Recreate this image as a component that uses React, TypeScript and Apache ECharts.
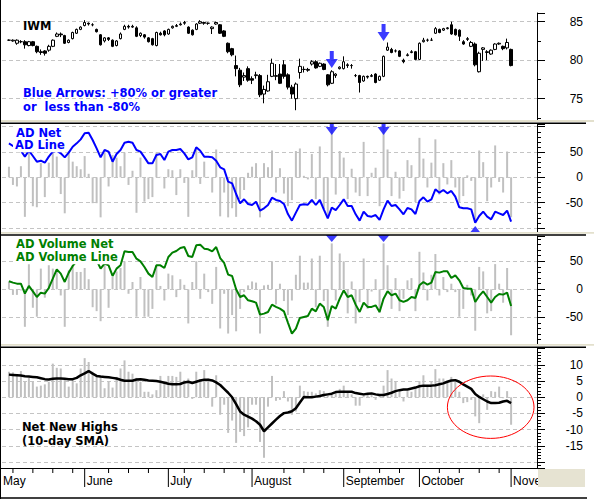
import React, { useEffect, useRef } from 'react';
import * as echarts from 'echarts';

// ---------- categories ----------
const HOLIDAYS = ['2007-05-28', '2007-07-04', '2007-09-03'];
const FIRST_DAY = '2007-05-01';
const CATEGORY_COUNT = 136;
const LEAD = 3; // trading days on the axis before the first data point (May 4)
const MONTH_NAMES = ['January', 'February', 'March', 'April', 'May', 'June', 'July', 'August', 'September', 'October', 'November', 'December'];

// ---------- IWM daily candles [open, high, low, close], 2007-05-04 .. 2007-11-01 ----------
const priceOHLC: number[][] = [
  [82.6, 82.7, 82.5, 82.6], [82.5, 82.7, 82.4, 82.6], [82.2, 82.7, 82.0, 82.6], [82.4, 82.6, 82.2, 82.4], [82.4, 82.6, 81.5, 82.0],
  [81.9, 82.5, 81.8, 82.4], [82.4, 82.5, 81.8, 81.9], [81.8, 81.9, 80.9, 81.1], [81.1, 81.4, 80.7, 81.0], [81.2, 81.3, 80.6, 80.9],
  [81.3, 82.0, 81.1, 81.8], [81.8, 82.7, 81.7, 82.6], [83.1, 83.6, 83.0, 83.4], [83.4, 83.6, 83.0, 83.3], [83.2, 83.3, 82.1, 82.2],
  [82.3, 82.7, 82.2, 82.6], [82.8, 83.7, 82.7, 83.6], [83.5, 84.1, 83.4, 84.0], [84.0, 84.4, 83.9, 84.3], [84.5, 85.2, 84.4, 84.9],
  [84.8, 84.9, 84.5, 84.7], [84.6, 84.8, 84.4, 84.6], [84.0, 84.1, 83.6, 83.7], [83.3, 83.4, 81.9, 82.0], [82.5, 83.0, 82.3, 82.9],
  [82.9, 83.0, 82.5, 82.7], [82.6, 82.7, 81.7, 81.8], [81.9, 82.6, 81.8, 82.5], [82.8, 83.6, 82.7, 83.4], [84.0, 84.6, 83.9, 84.4],
  [84.4, 84.6, 84.1, 84.3], [84.3, 84.6, 84.2, 84.4], [84.2, 84.4, 83.0, 83.1], [83.2, 83.6, 83.0, 83.5], [83.3, 83.4, 82.8, 83.0],
  [82.9, 83.0, 82.3, 82.4], [82.8, 82.9, 81.9, 82.0], [81.9, 83.7, 81.8, 83.6], [83.5, 83.7, 83.2, 83.3], [83.8, 83.9, 83.1, 83.3],
  [83.4, 84.1, 83.3, 84.0], [84.2, 84.5, 84.1, 84.4], [84.4, 84.7, 84.3, 84.5], [84.6, 84.9, 84.5, 84.7], [84.8, 85.1, 84.6, 84.9],
  [84.3, 84.4, 83.4, 83.5], [83.9, 84.0, 83.2, 83.3], [84.0, 84.8, 83.9, 84.7], [84.8, 85.2, 84.7, 85.0], [84.9, 85.0, 84.6, 84.8],
  [84.8, 84.9, 84.6, 84.8], [84.1, 84.4, 83.4, 84.3], [84.7, 85.0, 84.6, 84.9], [84.6, 84.7, 83.4, 83.5], [83.8, 83.9, 83.0, 83.1],
  [82.2, 82.3, 80.9, 81.1], [81.5, 81.6, 80.5, 80.7], [79.3, 80.6, 77.9, 78.9], [78.7, 79.0, 76.5, 76.8], [77.8, 78.4, 77.3, 78.0],
  [78.9, 79.2, 77.2, 77.4], [77.6, 77.9, 76.9, 77.4], [78.0, 78.5, 77.6, 78.1], [78.0, 78.2, 75.2, 75.5], [75.6, 76.7, 74.4, 76.2],
  [76.0, 78.1, 75.9, 77.2], [77.9, 80.2, 77.8, 79.6], [77.9, 79.5, 77.4, 78.0], [78.2, 79.5, 76.9, 77.0], [79.4, 80.0, 77.6, 77.9],
  [78.1, 78.3, 76.2, 76.5], [76.5, 76.8, 75.0, 75.6], [75.0, 77.1, 73.5, 76.9], [78.4, 80.2, 77.6, 79.2], [78.8, 79.2, 78.4, 78.8],
  [78.8, 79.0, 78.5, 78.7], [79.5, 80.0, 79.3, 79.8], [79.8, 80.0, 78.9, 79.0], [79.2, 79.7, 79.1, 79.6], [79.5, 79.6, 78.7, 78.8],
  [78.1, 78.2, 76.6, 76.8], [77.0, 78.7, 76.9, 78.5], [78.0, 78.3, 77.7, 78.2], [78.9, 79.2, 78.8, 79.1], [78.9, 80.5, 78.8, 79.8],
  [79.4, 79.6, 79.0, 79.3], [79.3, 79.5, 78.9, 79.3], [78.0, 78.2, 77.8, 78.0], [78.0, 78.1, 75.8, 77.1], [77.3, 78.0, 77.2, 77.9],
  [77.9, 78.0, 77.6, 77.8], [77.9, 78.2, 77.8, 78.0], [78.2, 78.3, 77.0, 77.1], [77.4, 78.0, 77.3, 77.9], [77.9, 80.6, 77.8, 80.5],
  [81.3, 82.3, 81.2, 81.7], [81.4, 81.6, 80.9, 81.0], [81.2, 81.4, 81.0, 81.2], [81.2, 81.3, 80.4, 80.5], [80.0, 80.2, 79.6, 79.8],
  [80.6, 80.9, 80.5, 80.7], [81.0, 81.3, 80.9, 81.1], [81.1, 81.2, 80.0, 80.1], [80.1, 82.3, 80.0, 82.2], [82.4, 82.9, 82.3, 82.6],
  [82.6, 82.8, 82.4, 82.6], [82.6, 82.9, 82.5, 82.6], [83.5, 84.3, 83.4, 84.1], [84.0, 84.1, 83.5, 83.6], [83.9, 84.2, 83.8, 84.1],
  [84.1, 84.3, 84.0, 84.2], [84.6, 85.0, 83.3, 83.4], [84.0, 84.1, 83.2, 83.3], [83.9, 84.0, 82.5, 83.1], [82.4, 82.6, 82.0, 82.1],
  [82.7, 83.0, 82.5, 82.8], [81.8, 82.5, 81.7, 82.3], [82.1, 82.3, 79.2, 79.4], [78.5, 81.1, 78.4, 80.9], [81.4, 81.7, 79.9, 81.6],
  [81.0, 81.3, 80.0, 81.1], [80.8, 81.4, 80.7, 81.3], [81.4, 82.2, 81.3, 82.1], [82.1, 82.3, 82.0, 82.2], [81.8, 81.9, 81.3, 81.5],
  [81.6, 82.8, 81.4, 82.3], [81.4, 81.5, 79.2, 79.3],
];

// ---------- AD Net (bars) and AD Line ----------
const adNet = [
  21, -15, -18, 22, -78, 51, -57, -59, 28, -39,
  29, 51, 41, -33, -71, 51, 31, 22, 16, 42,
  7, -51, -51, -79, 49, -18, 44, 39, 22, 49,
  -15, 13, -70, 39, -48, -43, -39, 49, 1, -22,
  16, 14, -35, 16, -11, -78, 14, 59, -13, 31,
  1, -30, 55, -77, -30, -79, -61, -78, -43, -25,
  9, 21, 28, -79, 28, 20, 53, -30, 18, -32,
  -57, -45, 52, 57, 3, -4, 46, -43, 61, -63,
  -76, 100, -34, 52, 39, -43, 17, -30, -37, 70,
  -37, 9, 19, -57, 100, 55, -37, 11, -42, -27,
  34, 24, -49, 78, 37, -20, 29, 75, -34, 28,
  -14, 34, -20, -49, -37, 4, -7, -88, 53, 30,
  -47, -20, 63, -9, -30, 51, -79,
];
const adLine = [
  67.1, 61.9, 57.2, 52.6, 40.8, 52.6, 42.1, 30.9, 32.9, 28.9,
  40.8, 50.7, 52.6, 47.4, 39.5, 48.7, 60.5, 67.1, 75, 86.9,
  88.2, 73.7, 57.2, 39.5, 54, 50.7, 30.9, 46.1, 54, 68.4,
  70.4, 68.4, 54, 50.7, 39.5, 27.6, 27.6, 44.1, 46.1, 34.2,
  50.7, 54, 54, 55.9, 47.4, 35.5, 39.5, 59.2, 52.6, 40.8,
  40.8, 39.5, 32.9, 19.7, 15.8, -8.6, -11.8, -32.9, -51.3, -43.4,
  -52.6, -54.6, -48, -65.8, -61.2, -54.6, -40.1, -44.7, -46.7, -52.6,
  -72.4, -85.5, -69.7, -54.6, -53.3, -54, -44.7, -54.6, -44.7, -63.2,
  -80.9, -59.9, -64.5, -54.6, -43.4, -56.6, -56.6, -73, -85.5, -67.8,
  -76.3, -77.6, -74.4, -84.2, -63.2, -46.1, -56.6, -54.6, -63.2, -73,
  -60.5, -63.2, -72.4, -46.7, -39.5, -48, -43.4, -23.7, -30.3, -25,
  -31.6, -26.9, -38.2, -59.2, -61.2, -61.2, -63.2, -89.5, -76.3, -67.8,
  -77.6, -82.9, -67.8, -71.1, -74.4, -65.8, -87.5,
];

// ---------- AD Volume Net (bars) and AD Volume Line ----------
const advNet = [
  14, -10, -10, -2, -67, 49, -33, -49, 37, -15,
  43, 37, 32, -11, -67, 34, 43, 31, 31, 38,
  18, -32, -39, -57, 43, -33, 22, 32, 38, 50,
  -8, 13, -49, 22, -49, -49, -35, 43, 6, -20,
  28, 25, -14, 18, 8, -61, 13, 50, -17, 28,
  -5, -26, 40, -70, -8, -79, -46, -75, -35, -5,
  7, 14, 12, -79, 7, 8, 50, -27, 10, -21,
  -46, -20, 26, 60, 12, 12, 55, -32, 60, -21,
  -67, 82, -20, 64, 50, -43, 14, -61, -23, 55,
  -35, -4, 18, -42, 82, 43, -35, 20, -39, -17,
  16, 20, -39, 67, 30, -20, 26, 63, -11, 22,
  -5, 10, -5, -49, -35, 8, -11, -74, 40, 32,
  -43, -39, 45, 10, -24, 38, -82,
];
const advLine = [
  14.3, 11.9, 10.1, 10.1, -7.7, 6, -3.6, -13.7, -6, -7.7,
  2.4, 19, 35.7, 28, 13.1, 29.8, 41.7, 50, 55.9, 59.5,
  60.7, 55.9, 51.8, 36.9, 45.8, 42.8, 23.8, 36.9, 42.8, 67.8,
  66.6, 66.6, 54.7, 50, 39.9, 28, 22, 42.8, 42.8, 38.1,
  57.7, 65.5, 68.4, 73.8, 75.6, 59.5, 57.7, 78.5, 79.7, 72.6,
  71.4, 67.8, 75.6, 55.9, 47, 26.2, 23.8, 0, -13.7, -10.7,
  -19.6, -21.4, -23.8, -45.2, -43.4, -40.5, -27.4, -31.5, -34.5, -39.3,
  -59.5, -79.1, -70.2, -51.2, -49.4, -47.6, -34.5, -39.3, -25.6, -31.5,
  -55.3, -29.8, -34.5, -16.7, -1.8, -13.7, -10.7, -27.4, -40.5, -23.8,
  -31.5, -31.5, -28.6, -40.5, -16.7, -3.6, -10.7, -7.7, -19.6, -22.6,
  -19.6, -13.7, -15.5, 7.1, 13.1, 8.3, 11.9, 30.9, 29.8, 32.1,
  32.1, 20.2, 25, 16.1, 2.4, 1.2, 1.2, -22.6, -11.9, -3.6,
  -13.7, -23.8, -13.7, -8.3, -9.5, -6, -29.8,
];

// ---------- Net New Highs (bars) and 10-day SMA ----------
const nnhNet = [
  7.9, 7.7, 6.6, 8.1, 4.8, 6, 4.8, 3.3, 3.6, 4,
  4.8, 10.4, 9.1, 8.9, 5.3, 3.3, 5.8, 4.3, 8.9, 12.1,
  10.9, 7.9, 6.8, 6.3, 2.8, 4.8, 3, 6.3, 8.9, 11.4,
  7.9, 7.3, 6, 4.8, 1.7, 1.7, 0.9, 2.2, 6.6, 5,
  6.6, 6.6, 6.3, 7.9, 5.3, 5.8, -0.5, 7.9, 5.6, 8.4,
  5.8, -2.9, 6.8, -5.4, -2.3, -11, -7.2, -14.1, -10.7, -12,
  -9.3, -2.3, -2.3, -13.8, -18.7, -2.9, 6.6, -1.1, -0.8, 1.9,
  -1.3, -5.4, -4.4, 3.6, 1.9, 1.7, 1.7, 1.2, 2.2, 1.9,
  0.5, 0.9, 1.7, 2.6, 3.6, 1.7, 0.9, -2.6, -2.6, 0.9,
  0.7, 1.2, -0.8, 0.7, 3.6, 8.4, 5.8, 5, 2.2, -1.3,
  1.9, 1.7, 3, 5, 6.8, 3.3, 4.8, 8.7, 5.8, 5.8,
  5, 6.3, 5, 1.7, -1.8, -1.5, -0.8, -5.9, -8, 0.9,
  -3.9, 1.9, 1.7, 3.3, -0.3, 1.9, -8.5,
];
const nnhSma = [
  7.0, 6.9, 6.8, 6.7, 6.5, 6.4, 6.3, 6.2, 5.9, 5.6,
  5.5, 5.7, 5.8, 5.8, 5.7, 5.6, 5.6, 6.0, 6.8, 7.4,
  8.1, 7.3, 6.6, 6.4, 6.3, 6.2, 6.0, 5.8, 5.4, 5.1,
  5.1, 5.1, 5.5, 5.6, 5.4, 5.2, 5.1, 5.0, 4.8, 4.5,
  4.2, 4.0, 4.0, 4.1, 4.6, 4.8, 4.4, 4.8, 5.2, 5.4,
  5.4, 5.2, 4.6, 3.8, 2.6, 1.4, 0, -2.1, -4.4, -5.4,
  -6.0, -6.6, -7.4, -8.5, -10.5, -9.3, -8.1, -6.9, -5.8, -4.9,
  -4.7, -4.3, -3.4, -1.6, 0.1, 0, 0, 0.2, 0.4, 0.7,
  0.9, 1.1, 1.6, 1.7, 1.7, 1.7, 1.7, 1.3, 1.1, 0.9,
  1.1, 1.2, 0.9, 0.7, 0.7, 1.0, 1.4, 1.9, 2.2, 2.4,
  2.4, 2.7, 3.0, 3.4, 3.6, 3.6, 3.6, 3.7, 4.0, 4.3,
  4.8, 5.2, 5.3, 4.8, 4.0, 3.3, 2.6, 1.0, 0.1, -0.6,
  -1.3, -1.8, -1.8, -1.7, -1.3, -1.1, -1.8,
];

// ---------- blue arrows (days with AD Net beyond +/-80%) ----------
const upArrowDates = ['2007-08-29', '2007-09-18'];
const priceArrowTips = [79.0, 82.5];
const adArrowTip = 83.4;
const advArrowTip = 84.5;
const downArrowDates = ['2007-10-19'];
const adDownArrowTip = -96;

// ---------- axis ticks / gridlines ----------
const priceLabels = [75, 80, 85];
const priceGrid = [75, 80, 85];
const adLabels = [50, 0, -50];
const adGrid = [100, 50, 0, -50, -100];
const advLabels = [50, 0, -50];
const advGrid = [50, 0, -50];
const nnhLabels = [10, 5, 0, -5, -10, -15];
const nnhGrid = [10, 5, 0, -5, -10, -15, -20];
const MONTH_TICK_LEN = 19;
const WEEK_TICK_LEN = 5;

function tradingDays(start: string, count: number): string[] {
  const out: string[] = [];
  const d = new Date(start + 'T00:00:00Z');
  while (out.length < count) {
    const dow = d.getUTCDay();
    const s = d.toISOString().slice(0, 10);
    if (dow !== 0 && dow !== 6 && !HOLIDAYS.includes(s)) out.push(s);
    d.setUTCDate(d.getUTCDate() + 1);
  }
  return out;
}

const dates = tradingDays(FIRST_DAY, CATEGORY_COUNT);
const monthStart = dates.map((d, i) => i === 0 || d.slice(5, 7) !== dates[i - 1].slice(5, 7));
const weekStart: boolean[] = [];
{
  let last = -99;
  dates.forEach((d, i) => {
    if (monthStart[i]) { last = i; weekStart.push(false); return; }
    const dow = new Date(d + 'T00:00:00Z').getUTCDay();
    const prev = new Date(dates[i - 1] + 'T00:00:00Z').getUTCDay();
    weekStart.push(dow < prev && i - last > 3);
  });
}
const tickLengths = dates.map((_, i) => (monthStart[i] ? MONTH_TICK_LEN : weekStart[i] ? WEEK_TICK_LEN : '-'));
const monthName = (d: string) => MONTH_NAMES[Number(d.slice(5, 7)) - 1];

const pad = (arr: any[]) => [...Array(LEAD).fill('-'), ...arr];

const LABEL_FONT = '"Liberation Sans", Arial, sans-serif';
const TITLE_FONT = 'bold 11.5px "DejaVu Sans", Verdana, sans-serif';
const GRID_COLOR = '#c4c4c4';
const BAR_COLOR = '#c0c0c0';

const fmt = (list: number[]) => (v: number) => (list.some((t) => Math.abs(t - v) < 1e-6) ? String(v) : '');

function yAxisFor(gridIndex: number, min: number, max: number, step: number, minorSplit: number, labels: number[]) {
  return {
    type: 'value',
    gridIndex,
    position: 'right',
    min,
    max,
    splitNumber: Math.round((max - min) / step),
    minInterval: step,
    maxInterval: step,
    axisLine: { show: true, onZero: false, lineStyle: { color: '#000', width: 1 } },
    axisTick: { show: true, length: 8, lineStyle: { color: '#000', width: 1 } },
    minorTick: { show: true, splitNumber: minorSplit, length: 4, lineStyle: { color: '#000', width: 1 } },
    splitLine: { show: false },
    minorSplitLine: { show: false },
    axisLabel: { margin: 46, align: 'right', color: '#000', fontSize: 12, fontFamily: LABEL_FONT, formatter: fmt(labels) },
  };
}

function gridLines(vals: number[]) {
  return {
    silent: true,
    z: 1,
    symbol: ['none', 'none'],
    label: { show: false },
    emphasis: { disabled: true },
    lineStyle: { type: [4, 3], color: GRID_COLOR, width: 1 },
    data: vals.map((v) => ({ yAxis: v })),
  };
}

const hiddenX = (g: number) => ({ type: 'category', gridIndex: g, data: dates, boundaryGap: true, show: false });
const gridBox = (top: number, height: number) => ({
  left: -5, right: 57, top, height, containLabel: false, outerBoundsMode: 'none',
});

function title(text: string, x: number, y: number, color: string, bg?: boolean) {
  return {
    type: 'text',
    x: bg ? x - 2 : x,
    y,
    z: 100,
    style: {
      text,
      fill: color,
      font: TITLE_FONT,
      textAlign: 'left',
      textVerticalAlign: 'middle',
      verticalAlign: 'middle',
      backgroundColor: bg ? '#ffffff' : undefined,
      padding: bg ? [1, 2, 1, 2] : undefined,
    },
  };
}

function hline(x1: number, x2: number, y: number, color: string, w: number) {
  return { type: 'line', z: 100, shape: { x1, y1: y, x2, y2: y }, style: { stroke: color, lineWidth: w } };
}
function band(y: number, h: number) {
  return { type: 'rect', z: 100, shape: { x: 0, y, width: 594, height: h }, style: { fill: '#e3e0cd' } };
}

function buildOption() {
  const bigArrow = 'path://M4,0 L8,0 L8,8 L12,8 L6,17 L0,8 L4,8 Z';
  const cutArrow = 'path://M4,0 L8,0 L8,4 L12,4 L6,12 L0,4 L4,4 Z';
  const headDown = 'path://M0,0 L12,0 L6,7 Z';
  const headUp = 'path://M6,0 L12,7 L0,7 Z';
  const arrowColor = '#0a0aff';

  return {
    animation: false,
    backgroundColor: '#ffffff',
    grid: [
      gridBox(13, 107),
      gridBox(124, 108),
      gridBox(236, 108),
      gridBox(348, 120),
      gridBox(468, MONTH_TICK_LEN),
    ],
    xAxis: [
      hiddenX(0),
      hiddenX(1),
      hiddenX(2),
      {
        type: 'category', gridIndex: 3, position: 'bottom', data: dates, boundaryGap: true,
        axisLine: { show: true, onZero: false, lineStyle: { color: '#000', width: 1 } },
        axisTick: { show: false },
        axisLabel: {
          show: true,
          // the first month (its tick lies off the left edge) is written separately below
          interval: (i: number) => monthStart[i] && i > 0,
          formatter: (v: string) => monthName(v),
          align: 'left',
          padding: [0, 0, 0, 2],
          margin: 7,
          color: '#000',
          fontSize: 12,
          fontFamily: LABEL_FONT,
        },
        splitLine: { show: false },
      },
      hiddenX(4),
    ],
    yAxis: [
      yAxisFor(0, 72.23, 86.13, 5, 2, priceLabels),
      yAxisFor(1, -107.9, 105.3, 50, 5, adLabels),
      yAxisFor(2, -97.7, 95.2, 50, 5, advLabels),
      yAxisFor(3, -21.86, 15.23, 5, 5, nnhLabels),
      { type: 'value', gridIndex: 4, min: 0, max: MONTH_TICK_LEN, inverse: true, show: false },
    ],
    series: [
      {
        type: 'candlestick', xAxisIndex: 0, yAxisIndex: 0,
        barWidth: 3,
        data: [...Array(LEAD).fill(['-', '-', '-', '-']), ...priceOHLC.map(([o, h, l, c]) => [o, c, l, h])],
        itemStyle: { color: '#ffffff', color0: '#000000', borderColor: '#000000', borderColor0: '#000000', borderWidth: 1 },
        markLine: gridLines(priceGrid),
      },
      {
        type: 'scatter', xAxisIndex: 0, yAxisIndex: 0, symbol: bigArrow, symbolSize: [12, 17], symbolOffset: [0, '-50%'],
        itemStyle: { color: arrowColor }, z: 5,
        data: upArrowDates.map((d, i) => [d, priceArrowTips[i]]),
      },
      {
        type: 'bar', xAxisIndex: 1, yAxisIndex: 1, barWidth: 2, itemStyle: { color: BAR_COLOR },
        data: pad(adNet), markLine: gridLines(adGrid),
      },
      {
        type: 'line', xAxisIndex: 1, yAxisIndex: 1, symbol: 'none', data: pad(adLine),
        lineStyle: { color: '#0000ff', width: 2 },
      },
      {
        type: 'scatter', xAxisIndex: 1, yAxisIndex: 1, symbol: cutArrow, symbolSize: [12, 12], symbolOffset: [0, '-50%'],
        itemStyle: { color: arrowColor }, z: 5,
        data: upArrowDates.map((d) => [d, adArrowTip]),
      },
      {
        type: 'scatter', xAxisIndex: 1, yAxisIndex: 1, symbol: headUp, symbolSize: [11, 7], symbolOffset: [0, '50%'],
        itemStyle: { color: arrowColor }, z: 5,
        data: downArrowDates.map((d) => [d, adDownArrowTip]),
      },
      {
        type: 'bar', xAxisIndex: 2, yAxisIndex: 2, barWidth: 2, itemStyle: { color: BAR_COLOR },
        data: pad(advNet), markLine: gridLines(advGrid),
      },
      {
        type: 'line', xAxisIndex: 2, yAxisIndex: 2, symbol: 'none', data: pad(advLine),
        lineStyle: { color: '#007f00', width: 2 },
      },
      {
        type: 'scatter', xAxisIndex: 2, yAxisIndex: 2, symbol: headDown, symbolSize: [12, 7], symbolOffset: [0, '-50%'],
        itemStyle: { color: arrowColor }, z: 5,
        data: upArrowDates.map((d) => [d, advArrowTip]),
      },
      {
        type: 'bar', xAxisIndex: 3, yAxisIndex: 3, barWidth: 2, itemStyle: { color: BAR_COLOR },
        data: pad(nnhNet), markLine: gridLines(nnhGrid),
      },
      {
        type: 'line', xAxisIndex: 3, yAxisIndex: 3, symbol: 'none', data: pad(nnhSma),
        lineStyle: { color: '#000000', width: 2.5 },
      },
      {
        // x-axis tick marks: long at month starts, short at week starts
        type: 'bar', xAxisIndex: 4, yAxisIndex: 4, barWidth: 1, silent: true,
        itemStyle: { color: '#000000' },
        data: tickLengths,
      },
    ],
    graphic: [
      band(120, 2),
      hline(0, 586, 123.2, '#000', 1.6),
      band(232, 1.8),
      hline(0, 586, 235, '#000', 1.6),
      band(344, 1.8),
      hline(0, 586, 347.2, '#000', 1.6),
      { type: 'line', z: 100, shape: { x1: 0.5, y1: 0, x2: 0.5, y2: 499 }, style: { stroke: '#000', lineWidth: 1 } },
      hline(0, 587, 498, '#000', 1.5),
      { type: 'rect', z: 100, shape: { x: 538, y: 469, width: 47, height: 18 }, style: { fill: '#e6e3d2' } },
      { type: 'ellipse', z: 100, shape: { cx: 490.7, cy: 407.2, rx: 43.3, ry: 31.2 }, style: { fill: 'none', stroke: '#ff0000', lineWidth: 1 } },
      {
        type: 'text', x: 3, y: 481, z: 50,
        style: { text: monthName(dates[0]), fill: '#000', font: '12px "Liberation Sans", Arial, sans-serif', textAlign: 'left', textVerticalAlign: 'middle', verticalAlign: 'middle' },
      },
      title('IWM', 23, 26, '#000'),
      title('Blue Arrows: +80% or greater', 23, 93, '#0000ff'),
      title('or  less than -80%', 23, 107, '#0000ff'),
      title('AD Net', 16, 132.8, '#0000ff', true),
      title('AD Line', 15, 145.3, '#0000ff', true),
      title('AD Volume Net', 16, 244, '#007f00', true),
      title('AD Volume Line', 16, 257.3, '#007f00', true),
      title('Net New Highs', 22, 427, '#000'),
      title('(10-day SMA)', 22, 440.5, '#000'),
    ],
  };
}

export default function App() {
  const ref = useRef<HTMLDivElement>(null);
  useEffect(() => {
    if (!ref.current) return;
    const chart = echarts.init(ref.current, null, { renderer: 'svg' });
    chart.setOption(buildOption() as any);
    return () => chart.dispose();
  }, []);
  return <div ref={ref} style={{ position: 'absolute', left: 0, top: 0, width: 594, height: 500 }} />;
}
